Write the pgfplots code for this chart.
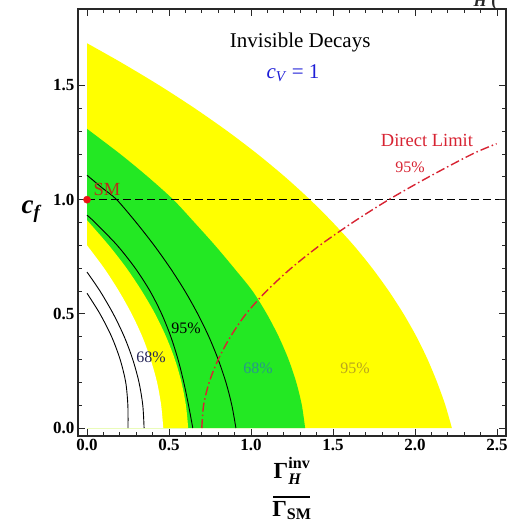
\documentclass[border=0pt]{standalone}
\usepackage{fontspec}
\setmainfont{Liberation Serif}
\usepackage{amsmath}
\usepackage{pgfplots}
\usepackage{pgfplotstable}
\pgfplotsset{compat=1.18}

\definecolor{bandyellow}{RGB}{255,255,0}
\definecolor{bandgreen}{RGB}{35,232,35}
\definecolor{limitred}{RGB}{215,35,50}
\definecolor{smred}{RGB}{185,45,25}
\definecolor{dotred}{RGB}{235,20,20}
\definecolor{cvblue}{RGB}{30,30,215}
\definecolor{framegray}{RGB}{40,40,40}
\definecolor{tealtxt}{RGB}{40,150,140}
\definecolor{olivetxt}{RGB}{185,165,30}
\definecolor{navytxt}{RGB}{40,40,90}

% outer edge of the 95% band
\pgfplotstableread{
x y
2.225 0.000
2.185 0.100
2.135 0.200
2.077 0.300
2.009 0.400
1.930 0.500
1.840 0.600
1.739 0.700
1.626 0.800
1.499 0.900
1.360 1.000
1.207 1.100
1.039 1.200
0.856 1.300
0.657 1.400
0.442 1.500
0.210 1.600
0.000 1.685
}\yellowouter
% outer edge of the 68% band
\pgfplotstableread{
x y
1.330 0.000
1.310 0.100
1.276 0.200
1.229 0.300
1.169 0.400
1.096 0.500
1.009 0.600
0.897 0.700
0.780 0.800
0.655 0.900
0.526 1.000
0.371 1.100
0.202 1.200
0.000 1.310
}\greenouter
% inner edge of the 68% band
\pgfplotstableread{
x y
0.617 0.000
0.603 0.100
0.576 0.200
0.536 0.300
0.482 0.400
0.415 0.500
0.334 0.600
0.241 0.700
0.133 0.800
0.000 0.910
}\greeninner
% inner edge of the 95% band
\pgfplotstableread{
x y
0.465 0.000
0.452 0.100
0.427 0.200
0.388 0.300
0.337 0.400
0.272 0.500
0.194 0.600
0.104 0.700
0.000 0.800
}\yellowinner
% contours of the second fit
\pgfplotstableread{
x y
0.908 0.000
0.883 0.100
0.847 0.200
0.800 0.300
0.743 0.400
0.675 0.500
0.597 0.600
0.508 0.700
0.409 0.800
0.300 0.900
0.181 1.000
0.095 1.050
0.000 1.107
}\cA
\pgfplotstableread{
x y
0.645 0.000
0.619 0.100
0.590 0.200
0.555 0.300
0.511 0.400
0.455 0.500
0.384 0.600
0.294 0.700
0.184 0.800
0.049 0.900
0.000 0.932
}\cB
\pgfplotstableread{
x y
0.348 0.000
0.340 0.100
0.317 0.200
0.279 0.300
0.227 0.400
0.160 0.500
0.079 0.600
0.000 0.683
}\cC
\pgfplotstableread{
x y
0.250 0.000
0.249 0.100
0.236 0.200
0.202 0.300
0.150 0.400
0.079 0.500
0.000 0.590
}\cD
% direct search limit
\pgfplotstableread{
x y
0.700 0.000
0.711 0.100
0.745 0.200
0.800 0.300
0.875 0.400
0.970 0.500
1.095 0.600
1.245 0.700
1.420 0.800
1.620 0.900
1.840 1.000
2.085 1.100
2.350 1.200
2.498 1.245
}\direct

\begin{document}
\begin{tikzpicture}
\path[use as bounding box] (-78pt,-86pt) rectangle (436pt,436pt);
\begin{axis}[
  at={(0,0)}, anchor=south west,
  scale only axis, width=428pt, height=427pt,
  xmin=-0.055, xmax=2.555, ymin=-0.035, ymax=1.835,
  clip=false, axis on top,
  xtick={0,0.5,1,1.5,2,2.5}, ytick={0,0.5,1,1.5},
  minor x tick num=4, minor y tick num=4,
  major tick length=7pt, minor tick length=4pt,
  axis line style={framegray, line width=1.1pt},
  every tick/.style={framegray, line width=0.8pt},
  xticklabel pos=lower, yticklabel pos=left,
  ticklabel style={font=\fontsize{17}{17}\selectfont\bfseries},
  /pgf/number format/.cd, fixed, fixed zerofill, precision=1, assume math mode=true,
]
% bands, painted from the outside in
\addplot[fill=bandyellow, draw=none, smooth] table {\yellowouter} \closedcycle;
\addplot[fill=bandgreen, draw=none, smooth] table {\greenouter} \closedcycle;
\addplot[fill=bandyellow, draw=none, smooth] table {\greeninner} \closedcycle;
\addplot[fill=white, draw=none, smooth] table {\yellowinner} \closedcycle;

% contour lines
\addplot[black, line width=0.9pt, smooth] table {\cA};
\addplot[black, line width=0.9pt, smooth] table {\cB};
\addplot[black, line width=0.9pt, smooth] table {\cC};
\addplot[black, line width=0.9pt, smooth] table {\cD};

% SM line and point
\addplot[black, line width=0.9pt, dash pattern=on 8pt off 4pt] coordinates {(0,1) (2.555,1)};
\addplot[limitred, line width=1.4pt, smooth, dash pattern=on 9pt off 3pt on 1.5pt off 3pt] table {\direct};
\addplot[only marks, mark=*, mark size=3.6pt, color=dotred] coordinates {(0,1)};

% annotations
\node[font=\fontsize{21}{21}\selectfont] at (axis cs:1.30,1.69) {Invisible Decays};
\node[font=\fontsize{21}{21}\selectfont, text=cvblue] at (axis cs:1.256,1.555) {\textit{c}\raisebox{-0.35ex}{\fontsize{15}{15}\selectfont\textit{V}} = 1};
\node[font=\fontsize{18.5}{18.5}\selectfont, text=limitred] at (axis cs:2.073,1.26) {Direct Limit};
\node[font=\fontsize{16}{16}\selectfont, text=limitred] at (axis cs:1.97,1.142) {95\%};
\node[font=\fontsize{18.5}{18.5}\selectfont, text=smred] at (axis cs:0.122,1.046) {SM};
\node[font=\fontsize{16}{16}\selectfont, text=black] at (axis cs:0.604,0.438) {95\%};
\node[font=\fontsize{16}{16}\selectfont, text=navytxt] at (axis cs:0.39,0.31) {68\%};
\node[font=\fontsize{16}{16}\selectfont, text=tealtxt] at (axis cs:1.043,0.262) {68\%};
\node[font=\fontsize{16}{16}\selectfont, text=olivetxt] at (axis cs:1.634,0.263) {95\%};

% y axis title
\node[font=\fontsize{27}{27}\selectfont] at (rel axis cs:0,0.525) [xshift=-47pt]
  {$\text{\bfseries\itshape c}_{\text{\bfseries\itshape f}}$};
\end{axis}
% x axis title, set as a stacked fraction
\node[anchor=base, font=\fontsize{23}{23}\selectfont, inner sep=0pt] at (214pt,-42pt)
  {$\text{\bfseries Γ}^{\text{\bfseries inv}}_{\text{\bfseries\itshape H}}$};
\draw[black, line width=1.1pt] (195pt,-61pt) -- (232pt,-61pt);
\node[anchor=base, font=\fontsize{23}{23}\selectfont, inner sep=0pt] at (214pt,-80pt)
  {$\text{\bfseries Γ}_{\text{\bfseries SM}}$};
\node[anchor=base west, font=\fontsize{17}{17}\selectfont\bfseries, text=framegray] at (392pt,429pt) {\textit{H} (};
\end{tikzpicture}
\end{document}
